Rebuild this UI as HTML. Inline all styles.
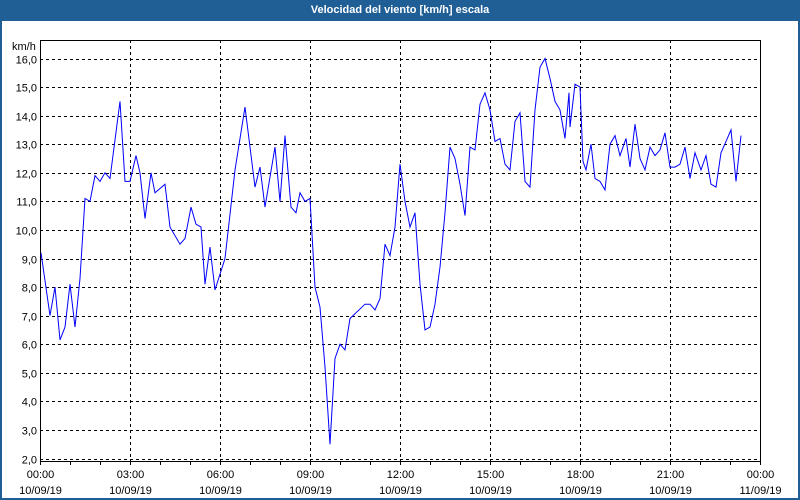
<!DOCTYPE html>
<html><head><meta charset="utf-8"><style>
body{margin:0;width:800px;height:500px;overflow:hidden;background:#fff;font-family:"Liberation Sans",sans-serif}
#win{position:absolute;left:0;top:0;width:796px;height:498px;border:2px solid #1f5f96;border-top:none}
#title{position:absolute;left:0;top:0;width:800px;height:21px;background:#1f5f96;color:#fff;font-weight:bold;font-size:11px;text-align:center;line-height:21px}
text{font-family:"Liberation Sans",sans-serif;font-size:11px;fill:#000}
</style></head><body>
<div id="win"></div>
<div id="title">Velocidad del viento [km/h] escala</div>
<svg id="chart" width="800" height="500" style="position:absolute;left:0;top:0">
<g id="grid"></g>
<g id="axes"></g>
<path id="line" fill="none" stroke="#0000ff" stroke-width="1"/>
<text x="12" y="50">km/h</text>
</svg>
<script>
const minutes=[2,20,30,40,50,60,70,80,90,100,110,120,130,140,160,170,180,192,200,210,222,230,250,260,280,290,302,312,322,330,340,350,370,390,410,430,440,450,470,480,490,502,512,520,530,540,550,560,570,580,590,600,610,620,650,660,670,680,690,700,710,720,730,740,750,760,770,780,790,800,810,820,830,840,850,860,870,880,890,900,910,920,930,940,950,960,970,980,990,1000,1010,1020,1030,1040,1050,1058,1060,1070,1080,1086,1092,1102,1110,1120,1130,1140,1150,1160,1172,1180,1190,1200,1210,1220,1230,1240,1250,1260,1270,1280,1290,1300,1310,1322,1332,1342,1352,1362,1372,1382,1392,1402,1412,1422,1432,1442,1452,1462,1472];
const values=[9.2,7.0,8.0,6.15,6.6,8.1,6.6,8.3,11.1,11.0,11.9,11.7,12.0,11.8,14.5,11.7,11.7,12.6,12.0,10.4,12.0,11.3,11.6,10.1,9.5,9.7,10.8,10.2,10.1,8.1,9.4,7.9,9.0,12.1,14.3,11.5,12.2,10.8,12.9,11.0,13.3,10.8,10.6,11.3,11.0,11.1,8.0,7.3,5.2,2.5,5.5,6.0,5.8,6.9,7.4,7.4,7.2,7.6,9.5,9.1,10.1,12.3,11.0,10.1,10.6,8.1,6.5,6.6,7.4,8.7,10.6,12.9,12.5,11.6,10.5,12.9,12.8,14.4,14.8,14.2,13.1,13.2,12.3,12.1,13.8,14.1,11.7,11.5,14.2,15.7,16.0,15.3,14.5,14.2,13.2,14.8,13.6,15.1,15.0,12.4,12.1,13.0,11.8,11.7,11.4,13.0,13.3,12.6,13.2,12.2,13.7,12.5,12.1,12.9,12.6,12.8,13.4,12.2,12.2,12.3,12.9,11.8,12.7,12.1,12.6,11.6,11.5,12.7,13.1,13.5,11.7,13.3];
const yTicks=["2,0","3,0","4,0","5,0","6,0","7,0","8,0","9,0","10,0","11,0","12,0","13,0","14,0","15,0","16,0"];
const xTimes=["00:00","03:00","06:00","09:00","12:00","15:00","18:00","21:00","00:00"];
const xDates=["10/09/19","10/09/19","10/09/19","10/09/19","10/09/19","10/09/19","10/09/19","10/09/19","11/09/19"];
const L=40,R=760,T=40,B=461;
const X=m=>L+(m/1440)*(R-L);
const Y=v=>458.5-(v-2)*(458.5-58.5)/14;
const NS="http://www.w3.org/2000/svg";
const grid=document.getElementById('grid'),axes=document.getElementById('axes');
function mk(tag,at,parent){const e=document.createElementNS(NS,tag);for(const k in at)e.setAttribute(k,at[k]);parent.appendChild(e);return e;}
yTicks.forEach((t,i)=>{const v=2+i,y=Math.round(Y(v))+0.5;
 const g=mk('line',{x1:L,x2:R,y1:y,y2:y,stroke:'#000','stroke-dasharray':'3,3'},grid);
 
 
 const tx=mk('text',{x:L-3,y:y+4,'text-anchor':'end'},axes);tx.textContent=t;
 
 
});
xTimes.forEach((t,i)=>{const x=Math.round(X(i*180))+0.5;
 if(i>0&&i<8){const g=mk('line',{x1:x,x2:x,y1:T,y2:B,stroke:'#000','stroke-dasharray':'3,3'},grid);
 
 }
 const a=mk('text',{x:x,y:478,'text-anchor':'middle'},axes);a.textContent=t;
 
 
 const b=mk('text',{x:x,y:494,'text-anchor':'middle'},axes);b.textContent=xDates[i];
 
 
});
for(let h=0;h<=24;h++){const x=Math.round(X(h*60))+0.5;const t=mk('line',{x1:x,x2:x,y1:B,y2:B+4,stroke:'#000'},axes);
 
 }
const fr=mk('rect',{x:L+0.5,y:T+0.5,width:R-L,height:B-T,fill:'none',stroke:'#000'},axes);


document.getElementById('line').setAttribute('d',minutes.map((m,i)=>(i?'L':'M')+X(m).toFixed(1)+','+Y(values[i]).toFixed(1)).join(''));
</script>
</body></html>
